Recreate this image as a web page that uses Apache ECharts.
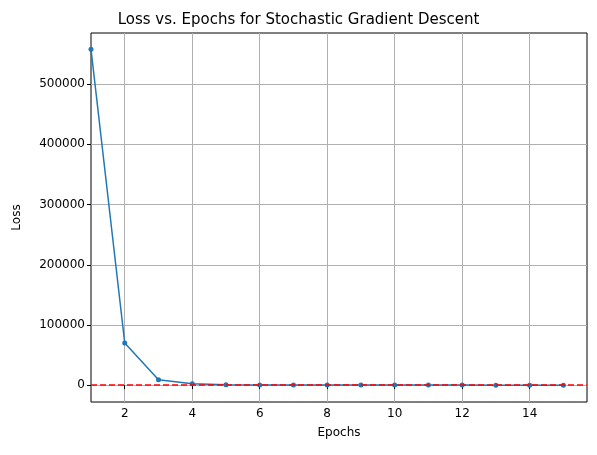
<!DOCTYPE html>
<html><head><meta charset="utf-8">
<script src="https://cdn.jsdelivr.net/npm/echarts@6/dist/echarts.min.js"></script>
<style>body{margin:0}#c{width:597px;height:455px}</style></head>
<body><div id="c"></div>
<script>
const epochs = [1,2,3,4,5,6,7,8,9,10,11,12,13,14,15];
const loss = [558000,70000,9000,2500,800,300,150,100,80,60,50,40,30,25,20];
const xTicks = [2,4,6,8,10,12,14];
const yTicks = [0,100000,200000,300000,400000,500000];
const font = 'DejaVu Sans';
const chart = echarts.init(document.getElementById('c'));
chart.setOption({
  animation: false,
  title: {text: 'Loss vs. Epochs for Stochastic Gradient Descent', left: 'center', top: 8,
    textStyle: {fontFamily: font, fontSize: 15, fontWeight: 'normal', color: '#000'}},
  grid: {left: 91, right: 10, top: 33, bottom: 53, show: true, borderColor: '#000', borderWidth: 1},
  xAxis: {type: 'value', min: 1, max: 15.7, name: 'Epochs', nameLocation: 'middle', nameGap: 25,
    nameTextStyle: {fontFamily: font, fontSize: 12, color: '#000'},
    axisLine: {show: false},
    axisTick: {show: true, customValues: xTicks, length: 4, lineStyle: {color: '#000'}},
    axisLabel: {customValues: xTicks, fontFamily: font, fontSize: 12, color: '#000', margin: 6},
    splitLine: {show: true, lineStyle: {color: '#b0b0b0'}}},
  yAxis: {type: 'value', min: -28000, max: 585000, name: 'Loss', nameLocation: 'middle', nameGap: 68,
    nameTextStyle: {fontFamily: font, fontSize: 12, color: '#000'},
    axisLine: {show: false},
    axisTick: {show: true, customValues: yTicks, length: 4, lineStyle: {color: '#000'}},
    axisLabel: {customValues: yTicks, formatter: v => String(v), fontFamily: font, fontSize: 12, color: '#000', margin: 6},
    splitLine: {show: true, lineStyle: {color: '#b0b0b0'}}},
  series: [{type: 'line', data: epochs.map((e, i) => [e, loss[i]]), symbol: 'circle', symbolSize: 5,
    lineStyle: {color: '#1f77b4', width: 1.5}, itemStyle: {color: '#1f77b4'},
    markLine: {silent: true, symbol: 'none', label: {show: false},
      lineStyle: {color: 'red', type: [6, 3], width: 1.5}, data: [{yAxis: 0}]}}]
});
</script></body></html>
